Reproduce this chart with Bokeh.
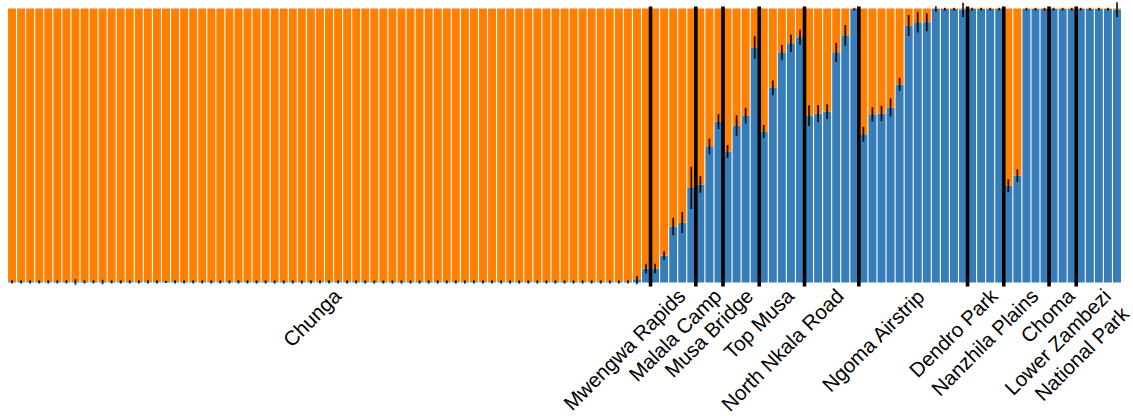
import math
from bokeh.plotting import figure
from bokeh.models import Range1d, ColumnDataSource
from bokeh.core.properties import value
from bokeh.embed import file_html
from bokeh.resources import INLINE

# ---- data -------------------------------------------------------------
populations = ["Chunga", "Mwengwa Rapids", "Malala Camp", "Musa Bridge", "Top Musa",
               "North Nkala Road", "Ngoma Airstrip", "Dendro Park", "Nanzhila Plains",
               "Choma", "Lower Zambezi\nNational Park"]

# proportion of the blue cluster per individual, by population
chunga = [0.002, 0.002, 0.002, 0.002, 0.002, 0.002, 0.002, 0.002, 0.002, 0.002,
          0.002, 0.002, 0.002, 0.002, 0.002, 0.002, 0.002, 0.002, 0.002, 0.002,
          0.002, 0.002, 0.002, 0.002, 0.002, 0.002, 0.002, 0.002, 0.002, 0.002,
          0.002, 0.002, 0.002, 0.002, 0.002, 0.002, 0.002, 0.002, 0.002, 0.002,
          0.002, 0.002, 0.002, 0.002, 0.002, 0.002, 0.002, 0.002, 0.002, 0.002,
          0.002, 0.002, 0.002, 0.002, 0.002, 0.002, 0.002, 0.002, 0.002, 0.002,
          0.002, 0.002, 0.002, 0.002, 0.002, 0.002, 0.002, 0.002, 0.002, 0.009,
          0.051]
mwengwa = [0.051, 0.098, 0.204, 0.219, 0.345]
malala = [0.358, 0.497, 0.587]
musa_bridge = [0.478, 0.573, 0.609, 0.858]
top_musa = [0.551, 0.710, 0.840, 0.873, 0.895]
north_nkala = [0.609, 0.617, 0.624, 0.840, 0.902, 0.998]
ngoma = [0.541, 0.614, 0.617, 0.639, 0.723, 0.938, 0.950, 0.950, 0.998, 0.998, 0.998, 0.995]
dendro = [0.998, 0.998, 0.998, 0.998]
nanzhila = [0.353, 0.390, 0.998, 0.998, 0.998]
choma = [0.998, 0.998, 0.998]
lower_zambezi = [0.998, 0.998, 0.998, 0.998, 0.996]

# half-width of the error bar per individual
chunga_err = [0.006, 0.006, 0.006, 0.006, 0.006, 0.006, 0.006, 0.010, 0.006, 0.006,
              0.008, 0.006, 0.006, 0.006, 0.006, 0.006, 0.006, 0.004, 0.006, 0.006,
              0.006, 0.006, 0.006, 0.006, 0.006, 0.006, 0.006, 0.006, 0.006, 0.006,
              0.006, 0.006, 0.006, 0.006, 0.006, 0.006, 0.006, 0.006, 0.006, 0.006,
              0.006, 0.006, 0.006, 0.006, 0.006, 0.006, 0.006, 0.006, 0.006, 0.006,
              0.006, 0.006, 0.006, 0.006, 0.006, 0.006, 0.006, 0.006, 0.006, 0.006,
              0.006, 0.006, 0.006, 0.006, 0.006, 0.006, 0.006, 0.006, 0.006, 0.015,
              0.017]
mwengwa_err = [0.017, 0.016, 0.032, 0.038, 0.077]
malala_err = [0.030, 0.029, 0.027]
musa_bridge_err = [0.024, 0.037, 0.029, 0.041]
top_musa_err = [0.024, 0.027, 0.027, 0.032, 0.027]
north_nkala_err = [0.038, 0.031, 0.027, 0.035, 0.038, 0.005]
ngoma_err = [0.027, 0.026, 0.028, 0.033, 0.024, 0.038, 0.038, 0.033, 0.010, 0.005, 0.005, 0.026]
dendro_err = [0.005, 0.005, 0.005, 0.005]
nanzhila_err = [0.024, 0.023, 0.005, 0.005, 0.005]
choma_err = [0.005, 0.005, 0.005]
lower_zambezi_err = [0.005, 0.005, 0.005, 0.005, 0.027]

groups = [chunga, mwengwa, malala, musa_bridge, top_musa, north_nkala, ngoma,
          dendro, nanzhila, choma, lower_zambezi]
group_errs = [chunga_err, mwengwa_err, malala_err, musa_bridge_err, top_musa_err,
              north_nkala_err, ngoma_err, dendro_err, nanzhila_err, choma_err,
              lower_zambezi_err]

# ---- derived ------------------------------------------------------------
blue = [v for g in groups for v in g]
err = [e for g in group_errs for e in g]
n = len(blue)
x = [i + 0.5 for i in range(n)]

bounds = []
centers = []
start = 0
for g in groups:
    centers.append(start + len(g) / 2.0)
    start += len(g)
    bounds.append(start)
bounds = bounds[:-1]

BLUE = "#377eb8"
ORANGE = "#ff7f00"

# layout: one unit of y = 274 px; bars span 0..1, labels live below 0
PX_X = 9.057
PX_Y = 274.0
FRAME_W = 1126
FRAME_H = 416
y_top = 1.0 + 8 / PX_Y
y_bot = y_top - FRAME_H / PX_Y
x_end = FRAME_W / PX_X

src = ColumnDataSource(dict(
    x=x, blue=blue, one=[1.0] * n,
    lo=[b - e for b, e in zip(blue, err)],
    hi=[b + e for b, e in zip(blue, err)],
))

p = figure(frame_width=FRAME_W, frame_height=FRAME_H,
           x_range=Range1d(0, x_end), y_range=Range1d(y_bot, y_top),
           output_backend="svg", toolbar_location=None,
           min_border_left=7, min_border_top=0, min_border_right=0,
           min_border_bottom=0)

p.vbar(x="x", width=0.88, bottom=0, top="blue", source=src,
       fill_color=BLUE, line_color=None)
p.vbar(x="x", width=0.88, bottom="blue", top="one", source=src,
       fill_color=ORANGE, line_color=None)
p.segment(x0="x", y0="lo", x1="x", y1="hi", source=src,
          line_color="black", line_width=1.8, line_alpha=0.85)

sep_src = ColumnDataSource(dict(x=bounds, y0=[-4 / PX_Y] * len(bounds),
                                y1=[1 + 2 / PX_Y] * len(bounds)))
p.segment(x0="x", y0="y0", x1="x", y1="y1", source=sep_src,
          line_color="black", line_width=3.6)

lab_src = ColumnDataSource(dict(x=centers, y=[-1.5 / PX_Y] * len(centers),
                                text=populations))
p.text(x="x", y="y", text="text", source=lab_src, angle=math.pi / 4,
       text_align="right", text_baseline="top",
       text_font=value("Liberation Sans"), text_font_size=value("20.5px"),
       text_color="#000000", text_line_height=1.1)

p.xaxis.visible = False
p.yaxis.visible = False
p.xgrid.visible = False
p.ygrid.visible = False
p.outline_line_color = None

open("out.html", "w").write(file_html(p, INLINE))
